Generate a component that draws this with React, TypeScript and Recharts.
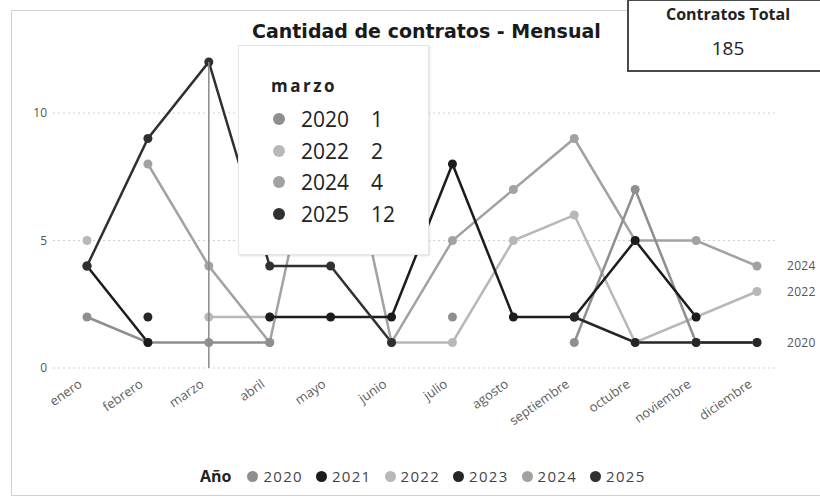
import { LineChart, Line, XAxis, YAxis, CartesianGrid, Tooltip } from 'recharts';

const months = ['enero', 'febrero', 'marzo', 'abril', 'mayo', 'junio', 'julio', 'agosto', 'septiembre', 'octubre', 'noviembre', 'diciembre'];

const years = ['2020', '2021', '2022', '2023', '2024', '2025'];

const s2020 = [2, 1, 1, 1, null, null, 2, null, 1, 7, 1, 1];
const s2021 = [4, 1, null, 2, 2, 2, 8, 2, 2, 5, 2, null];
const s2022 = [5, null, 2, 2, null, 1, 1, 5, 6, 1, 2, 3];
const s2023 = [null, 2, null, null, null, null, null, null, 2, 1, 1, 1];
const s2024 = [null, 8, 4, 1, 12, 1, 5, 7, 9, 5, 5, 4];
const s2025 = [4, 9, 12, 4, 4, 1, null, null, null, null, null, null];

const yTicks = [0, 5, 10];
const endLabelYears = ['2020', '2022', '2024'];
const totalContratos = 185;
const tooltipIndex = 2;

const COLORS: Record<string, string> = {
  '2020': '#8f8f8f',
  '2021': '#1c1c1c',
  '2022': '#b8b8b8',
  '2023': '#262626',
  '2024': '#a2a2a2',
  '2025': '#303030',
};

// lighter series first so the dark lines sit on top
const drawOrder = ['2022', '2024', '2020', '2021', '2023', '2025'];

const seriesByYear: Record<string, (number | null)[]> = {
  '2020': s2020,
  '2021': s2021,
  '2022': s2022,
  '2023': s2023,
  '2024': s2024,
  '2025': s2025,
};

const data = months.map((m, i) => {
  const row: Record<string, any> = { month: m };
  years.forEach((y) => (row[y] = seriesByYear[y][i]));
  return row;
});

const FONT = '"Open Sans", "Segoe UI", sans-serif';

const MonthTick = ({ x, y, payload }: any) => (
  <g transform={`translate(${x - 4},${y + 18})`}>
    <text textAnchor="end" transform="rotate(-35)" fill="#5e5e5e" fontSize={13} fontFamily={FONT}>
      {payload.value}
    </text>
  </g>
);

const TooltipBox = ({ payload, label }: any) => {
  const items = (payload || [])
    .filter((p: any) => p.value !== null && p.value !== undefined)
    .sort((a: any, b: any) => String(a.name).localeCompare(String(b.name)));
  return (
    <div
      style={{
        width: 189,
        height: 208,
        background: '#fff',
        border: '1px solid #e6e6e6',
        boxShadow: '1px 1px 2px rgba(0,0,0,0.12)',
        position: 'relative',
        fontFamily: FONT,
        color: '#222',
      }}
    >
      <div style={{ position: 'absolute', left: 32, top: 30, fontSize: 17, lineHeight: '20px', fontWeight: 700, letterSpacing: 2.5 }}>
        {label}
      </div>
      {items.map((p: any, i: number) => (
        <div key={p.name} style={{ position: 'absolute', left: 0, top: 62 + i * 31.7, height: 22, width: 189, fontSize: 21, lineHeight: '22px' }}>
          <span style={{ position: 'absolute', left: 34, top: 5, width: 12, height: 12, borderRadius: 6, background: COLORS[p.name] }} />
          <span style={{ position: 'absolute', left: 62, top: 0 }}>{p.name}</span>
          <span style={{ position: 'absolute', left: 132, top: 0 }}>{p.value}</span>
        </div>
      ))}
    </div>
  );
};

const endLabel = (year: string) => (props: any) => {
  const { x, y, index } = props;
  if (index !== months.length - 1 || !endLabelYears.includes(year)) return null;
  return (
    <text x={x + 30} y={y} dy={4} fill="#555" fontSize={12} letterSpacing={0.3} fontFamily={FONT}>
      {year}
    </text>
  );
};

export default function App() {
  return (
    <div style={{ position: 'relative', width: 820, height: 498, overflow: 'hidden', background: '#fff', fontFamily: FONT }}>
      <style>{'body{margin:0}'}</style>
      <div style={{ position: 'absolute', left: 11, top: 10, width: 840, height: 484, border: '1px solid #d2d2d2' }} />

      <div
        style={{
          position: 'absolute',
          left: 252,
          top: 19,
          fontFamily: '"DejaVu Sans", sans-serif',
          fontSize: 19,
          lineHeight: '24px',
          fontWeight: 700,
          color: '#1a1a1a',
          whiteSpace: 'nowrap',
        }}
      >
        Cantidad de contratos - Mensual
      </div>

      <div style={{ position: 'absolute', left: 627, top: -1, width: 210, height: 69, border: '2px solid #4a4a4a', background: '#fff' }} />
      <div style={{ position: 'absolute', left: 628, width: 200, top: 4, textAlign: 'center', fontSize: 16, lineHeight: '20px', fontWeight: 700, color: '#222' }}>
        Contratos Total
      </div>
      <div style={{ position: 'absolute', left: 628, width: 200, top: 36, textAlign: 'center', fontSize: 19, lineHeight: '24px', color: '#222' }}>
        {totalContratos}
      </div>

      <div style={{ position: 'absolute', left: 0, top: 0 }}>
        <LineChart width={820} height={498} data={data} margin={{ top: 62, right: 43, bottom: 50, left: 0 }}>
          <CartesianGrid vertical={false} horizontalValues={yTicks} stroke="#cfcfcf" strokeDasharray="2 3" />
          <XAxis
            dataKey="month"
            interval={0}
            height={80}
            axisLine={false}
            tickLine={false}
            tickSize={0}
            tickMargin={0}
            padding={{ left: 34, right: 20 }}
            tick={<MonthTick />}
          />
          <YAxis
            width={53}
            domain={[0, 12]}
            ticks={yTicks}
            axisLine={false}
            tickLine={false}
            tickSize={0}
            tickMargin={6}
            tick={{ fill: '#555', fontSize: 12, fontFamily: FONT }}
          />
          {drawOrder.map((y) => (
            <Line
              key={y}
              type="linear"
              dataKey={y}
              name={y}
              stroke={COLORS[y]}
              strokeWidth={2.5}
              dot={{ r: 4.5, fill: COLORS[y], stroke: 'none' }}
              activeDot={false}
              isAnimationActive={false}
              label={endLabel(y)}
            />
          ))}
          <Tooltip
            active
            defaultIndex={tooltipIndex}
            position={{ x: 238, y: 45 }}
            cursor={{ stroke: '#8a8a8a', strokeWidth: 1.5 }}
            content={<TooltipBox />}
            isAnimationActive={false}
          />
        </LineChart>
      </div>

      <div style={{ position: 'absolute', left: 200, top: 465, height: 22, display: 'flex', alignItems: 'center', whiteSpace: 'nowrap' }}>
        <span style={{ fontSize: 16, fontWeight: 700, color: '#222', marginRight: 16 }}>Año</span>
        {years.map((y) => (
          <span key={y} style={{ display: 'flex', alignItems: 'center', marginRight: 13 }}>
            <span style={{ width: 11, height: 11, borderRadius: 6, background: COLORS[y], marginRight: 5 }} />
            <span style={{ fontSize: 15, letterSpacing: 1.3, color: '#444' }}>{y}</span>
          </span>
        ))}
      </div>
    </div>
  );
}
